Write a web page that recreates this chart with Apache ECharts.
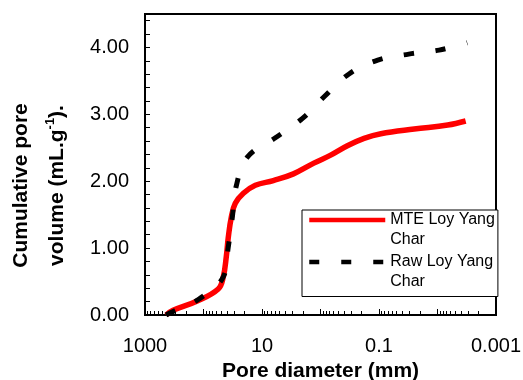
<!DOCTYPE html>
<html>
<head>
<meta charset="utf-8">
<script src="https://cdn.jsdelivr.net/npm/echarts@6/dist/echarts.min.js"></script>
<style>
  html, body { margin: 0; padding: 0; background: #fff; }
  #chart { width: 523px; height: 380px; }
</style>
</head>
<body>
<div id="chart"></div>
<script>
// pore diameter (mm) vs cumulative pore volume (mL/g)
const mteData = [
  [436, 0.0], [331, 0.07], [128, 0.21], [56, 0.39], [45.9, 0.57], [40.8, 0.87],
  [37.7, 1.16], [33.5, 1.46], [28.6, 1.67], [20.8, 1.82], [13.0, 1.94], [6.4, 2.01],
  [2.9, 2.11], [1.3, 2.27], [0.67, 2.39], [0.347, 2.53], [0.18, 2.64],
  [0.093, 2.71], [0.025, 2.78], [0.0067, 2.84], [0.0033, 2.90]
];
const rawData = [
  [436, 0.0], [344, 0.045], [119, 0.24], [45.9, 0.57], [37.7, 1.02], [32.2, 1.46],
  [27.5, 1.93], [17.8, 2.36], [5.9, 2.65], [2.03, 2.94], [0.85, 3.27], [0.33, 3.60],
  [0.105, 3.81], [0.031, 3.90], [0.0094, 3.96], [0.0031, 4.07]
];
const seriesNames = ['MTE Loy Yang Char', 'Raw Loy Yang Char'];
const xLabels = [1000, 10, 0.1, 0.001];
const xDecades = [1000, 100, 10, 1, 0.1, 0.01, 0.001];
const yLabels = [0, 1, 2, 3, 4];

// minor tick positions 2..9 in every decade, 0.2 steps on y
const xMinor = [];
xDecades.slice(1).forEach(function (d) {
  for (let k = 2; k <= 9; k++) xMinor.push(+(d * k).toPrecision(3));
});
const yTicks = [];
for (let i = 0; i <= 22; i++) yTicks.push(+(i * 0.2).toFixed(1));

const font = 'Liberation Sans, Arial, sans-serif';
const chart = echarts.init(document.getElementById('chart'));

chart.setOption({
  animation: false,
  grid: {
    left: 145, right: 27, top: 14, bottom: 65,
    show: true, borderColor: '#000', borderWidth: 2,
    outerBoundsMode: 'none'
  },
  legend: {
    orient: 'vertical',
    left: 302, top: 210,
    itemWidth: 76, itemHeight: 14, itemGap: -18,
    padding: [-20, 3, 4.5, 5],
    borderColor: '#000', borderWidth: 1,
    backgroundColor: '#fff',
    selectedMode: false,
    itemStyle: { opacity: 0 },
    lineStyle: { width: 4.5 },
    data: seriesNames,
    // empty first line keeps the first text line level with the icon
    formatter: function (name) { return '\n' + name.replace(' Char', '\nChar'); },
    textStyle: { fontFamily: font, fontSize: 16, color: '#000', lineHeight: 20 }
  },
  xAxis: [{
    type: 'log', logBase: 10, min: 0.001, max: 1000, inverse: true,
    name: 'Pore diameter (mm)', nameLocation: 'middle', nameGap: 44,
    nameTextStyle: { fontFamily: font, fontSize: 21, fontWeight: 'bold', color: '#000' },
    axisLine: { lineStyle: { color: '#000', width: 2 } },
    axisTick: { inside: true, length: 6, lineStyle: { color: '#000', width: 1 }, customValues: xDecades },
    axisLabel: {
      fontFamily: font, fontSize: 20, color: '#000', margin: 21,
      customValues: xLabels,
      formatter: function (v) { return String(+(+v).toPrecision(3)); }
    },
    splitLine: { show: false }
  }, {
    type: 'log', logBase: 10, min: 0.001, max: 1000, inverse: true,
    position: 'bottom', gridIndex: 0,
    axisLine: { show: false },
    axisTick: { inside: true, length: 4, lineStyle: { color: '#000', width: 1 }, customValues: xMinor },
    axisLabel: { show: false },
    splitLine: { show: false }
  }],
  yAxis: {
    type: 'value', min: 0, max: 4.5,
    name: 'Cumulative pore\nvolume (mL.g{sup|-1}).',
    nameLocation: 'middle', nameGap: 70,
    nameTextStyle: {
      fontFamily: font, fontSize: 21, fontWeight: 'bold', color: '#000',
      lineHeight: 36, padding: [0, 42, 0, 0],
      rich: {
        sup: {
          fontFamily: font, fontSize: 13, fontWeight: 'bold', color: '#000',
          verticalAlign: 'middle', lineHeight: 36, padding: [0, 0, 14, 0]
        }
      }
    },
    axisLine: { show: true, lineStyle: { color: '#000', width: 2 } },
    axisTick: { show: true, inside: true, length: 5, lineStyle: { color: '#000', width: 1 }, customValues: yTicks },
    axisLabel: {
      fontFamily: font, fontSize: 20, color: '#000', margin: 16,
      customValues: yLabels,
      formatter: function (v) { return (+v).toFixed(2); }
    },
    splitLine: { show: false }
  },
  series: [{
    name: seriesNames[0], type: 'line', data: mteData,
    smooth: 0.4, symbol: 'none',
    lineStyle: { color: '#ff0000', width: 5.5 },
    itemStyle: { color: '#ff0000' }
  }, {
    name: seriesNames[1], type: 'line', data: rawData,
    smooth: 0.4, symbol: 'none',
    lineStyle: { color: '#000', width: 5, type: [10, 22], cap: 'butt' },
    itemStyle: { color: '#000' }
  }]
});
</script>
</body>
</html>
